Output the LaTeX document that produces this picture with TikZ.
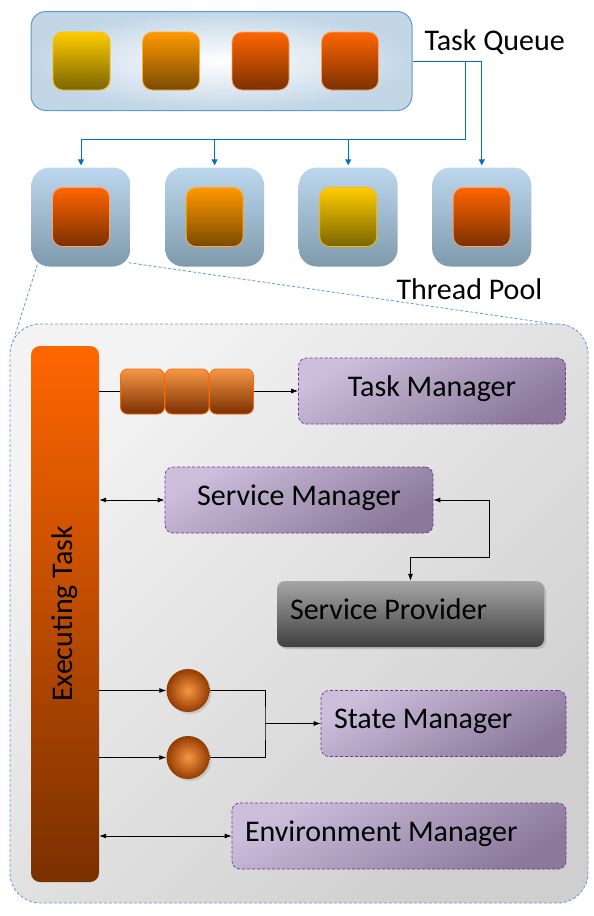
\documentclass[tikz,border=0pt]{standalone}
\usepackage{fontspec}
\setmainfont{Carlito}
\usetikzlibrary{arrows.meta, positioning, calc, shadows}
\definecolor{qedge}{HTML}{5B9BD5}
\definecolor{qfill}{HTML}{C2D6E6}
\definecolor{threadtop}{HTML}{BDD7EE}
\definecolor{threadbot}{HTML}{7F99AC}
\definecolor{yelltop}{HTML}{FFCC00}
\definecolor{yellbot}{HTML}{7A6500}
\definecolor{orngtop}{HTML}{FF9900}
\definecolor{orngbot}{HTML}{7A4A00}
\definecolor{redtop}{HTML}{FF6600}
\definecolor{redbot}{HTML}{7A3000}
\definecolor{minitop}{HTML}{F79646}
\definecolor{purpedge}{HTML}{7030A0}
\definecolor{purptop}{HTML}{CDBEDC}
\definecolor{purpbot}{HTML}{8B789B}
\definecolor{provtop}{HTML}{A6A6A6}
\definecolor{provbot}{HTML}{404040}
\definecolor{frametop}{HTML}{F3F3F3}
\definecolor{framebot}{HTML}{CFCFCF}
\definecolor{poolblue}{HTML}{0070C0}
\newcommand{\labelfont}{\fontsize{30}{36}\selectfont}
\tikzset{
  qbox/.style={draw=qedge, line width=1pt, rounded corners=15pt, inner color=white,
    outer color=qfill, minimum width=381pt, minimum height=99pt, inner sep=0pt},
  chip/.style={rounded corners=10pt, minimum width=57pt, minimum height=58pt,
    inner sep=0pt, line width=0.8pt},
  chipyellow/.style={top color=yelltop, bottom color=yellbot, draw=yelltop!70!orngtop},
  chiporange/.style={top color=orngtop, bottom color=orngbot, draw=orngtop!80!white},
  chipred/.style={top color=redtop, bottom color=redbot, draw=redtop!60!white},
  threadbox/.style={top color=threadtop, bottom color=threadbot, rounded corners=18pt,
    minimum width=99pt, minimum height=99pt, inner sep=0pt},
  blueline/.style={draw=poolblue, line width=0.9pt},
  bluearrow/.style={blueline, -{Triangle[length=6pt, width=6pt]}},
  zoomline/.style={draw=qedge, line width=0.8pt, dash pattern=on 3pt off 2pt},
  framebox/.style={draw=qedge, dash pattern=on 3pt off 2pt, line width=0.8pt, top color=frametop,
    bottom color=framebot, shading angle=45, rounded corners=30pt,
    minimum width=578pt, minimum height=579pt, inner sep=0pt},
  execbar/.style={top color=redtop, bottom color=redbot, rounded corners=9pt,
    minimum width=68pt, minimum height=536pt, inner sep=0pt},
  minichip/.style={top color=minitop, bottom color=redbot, draw=redtop, rounded corners=7pt,
    minimum width=44pt, minimum height=45pt, inner sep=0pt, line width=0.8pt},
  mgrbox/.style={draw=purpedge, dash pattern=on 3pt off 2pt, line width=0.7pt, top color=purptop,
    bottom color=purpbot, shading angle=30, rounded corners=8pt, minimum height=66pt,
    text height=20pt, text depth=10pt},
  provbox/.style={top color=provtop, bottom color=provbot, rounded corners=8pt,
    minimum height=66pt, text height=20pt, text depth=10pt,
    drop shadow={shadow xshift=2pt, shadow yshift=-2pt, opacity=0.35}},
  leftbox/.style={align=flush left, inner xsep=13pt, text width=#1},
  orb/.style={circle, minimum size=43pt, inner sep=0pt, inner color=minitop,
    outer color=redbot!80!redtop,
    drop shadow={shadow xshift=2pt, shadow yshift=-2pt, opacity=0.25}},
  arr/.style={-{Latex[length=7pt, width=5pt]}, line width=0.8pt},
  darr/.style={{Latex[length=7pt, width=5pt]}-{Latex[length=7pt, width=5pt]}, line width=0.8pt},
}

\begin{document}
\begin{tikzpicture}[x=1pt, y=-1pt, every node/.style={font=\labelfont}]
  \useasboundingbox (0,0) rectangle (594,916);

  % Task Queue
  \node[qbox] (queue) at (221.5,61) {};
  \foreach \i/\c in {1/chipyellow,2/chiporange,3/chipred,4/chipred}{
    \node[chip, \c] (q\i) at ({81.5+89.5*(\i-1)},61) {};
  }
  \node[anchor=base west] (queuelabel) at (421,50) {Task Queue};

  % Thread Pool
  \foreach \i/\c in {1/chipred,2/chiporange,3/chipyellow,4/chipred}{
    \node[threadbox] (t\i) at ({81+133.6*(\i-1)},217) {};
    \node[chip, \c, minimum height=59pt] (tc\i) at (t\i.center) {};
  }
  \node[anchor=base west] (poollabel) at (393,299) {Thread Pool};

  % Verteilung auf die Threads
  \coordinate (split) at (465,61);
  \coordinate (bus) at (465,139);
  \draw[blueline] (split) -- (bus) -- (bus -| t1.north);
  \foreach \i in {1,2,3}{
    \draw[bluearrow, shorten >=2pt] (bus -| t\i.north) -- (t\i.north);
  }
  \draw[bluearrow, shorten >=2pt] (queue.east) -| (t4.north);

  % Ausschnitt eines Threads
  \node[framebox] (frame) at (299,613.5) {};
  \draw[zoomline] ($(t1.south west)+(6,-2)$) -- ($(frame.north west)+(5,13)$);
  \draw[zoomline] ($(t1.south east)+(-2,-4)$) -- ($(frame.north east)+(-37,0)$);

  % Executing Task
  \node[execbar] (exec) at (65,614) {};
  \node[rotate=90] (exectext) at (exec.center) {Executing Task};

  % Task Manager
  \node[mgrbox, minimum width=267pt] (taskmgr) at (432,391) {Task Manager};
  \draw[arr] (exec.east |- taskmgr.west) -- (taskmgr.west);
  \foreach \i in {1,2,3}{
    \node[minichip] (m\i) at ({142.5+44.5*(\i-1)},391.5) {};
  }

  % Service Manager / Service Provider
  \node[mgrbox, minimum width=268pt] (srvmgr) at (299,500) {Service Manager};
  \node[provbox, leftbox=241pt] (srvprov) at (410.5,614) {Service Provider};
  \coordinate (provbend) at (489,557);
  \draw[darr] (exec.east |- srvmgr.west) -- (srvmgr.west);
  \draw[darr] (srvmgr.east) -| (provbend) -| (srvprov.north);

  % State Manager
  \node[orb] (s1) at (188,690.5) {};
  \node[orb] (s2) at (188,757.5) {};
  \node[mgrbox, leftbox=219pt] (statemgr) at (443.5,723.5) {State Manager};
  \coordinate (join) at (265,723.5);
  \draw[arr] (exec.east |- s1.west) -- (s1.west);
  \draw[arr] (exec.east |- s2.west) -- (s2.west);
  \draw[line width=0.8pt] (s1.east) -| (join) |- (s2.east);
  \draw[arr] (join) -- (statemgr.west);

  % Environment Manager
  \node[mgrbox, leftbox=308pt] (envmgr) at (399,836) {Environment Manager};
  \draw[darr] (exec.east |- envmgr.west) -- (envmgr.west);
\end{tikzpicture}
\end{document}
